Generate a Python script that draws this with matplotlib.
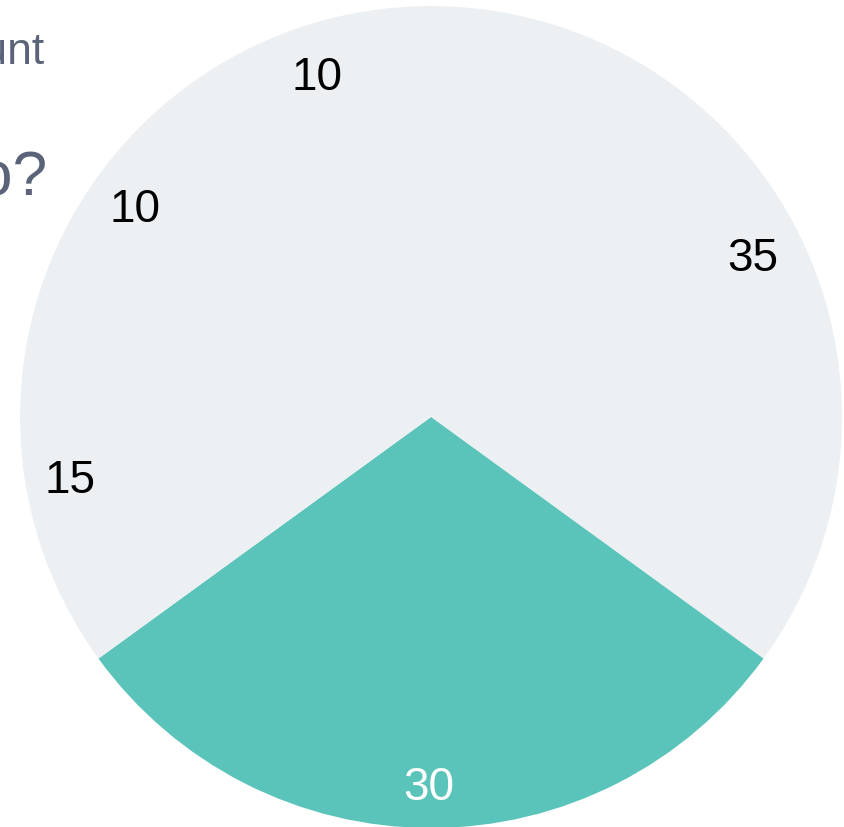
import numpy as np
import matplotlib.pyplot as plt

plt.rcParams['font.family'] = ['Liberation Sans', 'DejaVu Sans']

# Slice values, clockwise from 12 o'clock
labels = ['A', 'B', 'C', 'D', 'E']
values = [35, 30, 15, 10, 10]
colors = ['#edf0f3', '#5bc4ba', '#edf0f3', '#edf0f3', '#edf0f3']
text_colors = ['black', 'white', 'black', 'black', 'black']

fig = plt.figure(figsize=(8.44, 8.28), dpi=100)
ax = fig.add_axes([20 / 844, -1 / 828, 822 / 844, 822 / 828])

wedges, _ = ax.pie(values, colors=colors, startangle=90, counterclock=False,
                   radius=1, wedgeprops=dict(linewidth=0))
ax.set_xlim(-1, 1)
ax.set_ylim(-1, 1)
ax.set_aspect('equal')
ax.axis('off')

# value labels at the middle of each slice
for w, v, tc in zip(wedges, values, text_colors):
    ang = np.deg2rad((w.theta1 + w.theta2) / 2)
    ax.text(0.885 * np.cos(ang) - 0.005, 0.885 * np.sin(ang) - 0.015, str(v),
            color=tc, fontsize=33, ha='center', va='center')

# title block, mostly off the left edge
fig.text(45 / 844, 1 - 64 / 828, 'Amount', color='#5a6377', fontsize=32,
         ha='right', va='baseline')
fig.text(48 / 844, 1 - 195 / 828, 'Who?', color='#5a6377', fontsize=45,
         ha='right', va='baseline')

fig.savefig('out.png', dpi=100)
